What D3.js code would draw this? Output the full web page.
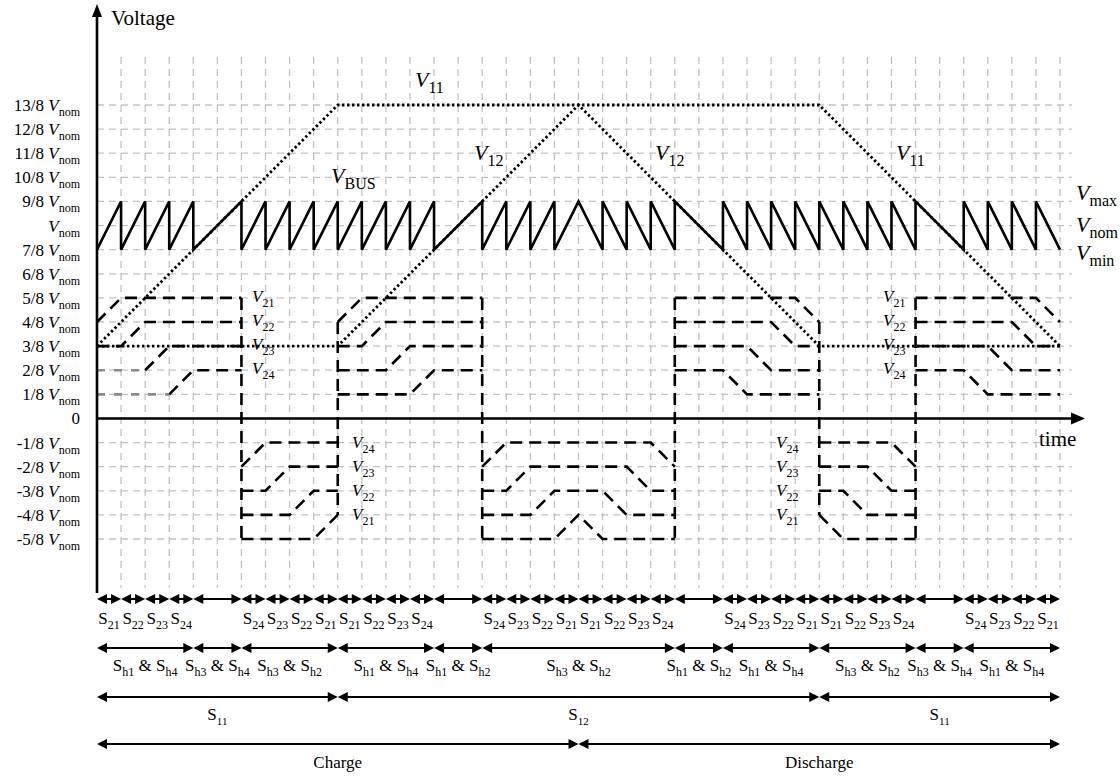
<!DOCTYPE html>
<html>
<head>
<meta charset="utf-8">
<script src="https://cdn.jsdelivr.net/npm/d3@7"></script>
<style>
    body { margin: 0; background: #fff; }
    svg text { font-family: "Liberation Serif", "Times New Roman", serif; fill: #000; white-space: pre; }
</style>
</head>
<body>
<div id="chart"></div>
<script>

/* * * * * * * * * * * * * *
*   voltage / time diagram  *
* * * * * * * * * * * * * */

// y levels in 1/8 Vnom, time in grid cells (0..40)
const levelTicks = [13, 12, 11, 10, 9, 8, 7, 6, 5, 4, 3, 2, 1, 0, -1, -2, -3, -4, -5];
const levelNames = ["13/8", "12/8", "11/8", "10/8", "9/8", "", "7/8", "6/8", "5/8", "4/8", "3/8", "2/8", "1/8", "0",
    "-1/8", "-2/8", "-3/8", "-4/8", "-5/8"];

// bus voltage (sawtooth)
const vBus = [[0,7],[1,9],[1,7],[2,9],[2,7],[3,9],[3,7],[4,9],[4,7],[6,9],[6,7],[7,9],[7,7],[8,9],[8,7],[9,9],[9,7],
    [10,9],[10,7],[11,9],[11,7],[12,9],[12,7],[13,9],[13,7],[14,9],[14,7],[16,9],[16,7],[17,9],[17,7],[18,9],[18,7],
    [19,9],[19,7],[20,9],[21,7],[21,9],[22,7],[22,9],[23,7],[23,9],[24,7],[24,9],[26,7],[26,9],[27,7],[27,9],[28,7],
    [28,9],[29,7],[29,9],[30,7],[30,9],[31,7],[31,9],[32,7],[32,9],[33,7],[33,9],[34,7],[34,9],[36,7],[36,9],[37,7],
    [37,9],[38,7],[38,9],[39,7],[39,9],[40,7]];

// first stage capacitors (dotted)
const v11 = [[0,3],[10,13],[30,13],[40,3]];
const v12 = [[0,3],[10,3],[20,13],[30,3],[40,3]];

// second stage capacitors (dashed), per block
const v2Block1 = [
    [[0,4],[1,5],[6,5]],
    [[0,3],[1,3],[2,4],[6,4]],
    [[2,2],[3,3],[6,3]],
    [[3,1],[4,2],[6,2]]
];
const v2Block1Faint = [
    [[0,2],[2,2]],
    [[0,1],[3,1]]
];
const v2Block2 = [
    [[6,-2],[7,-1],[10,-1]],
    [[6,-3],[7,-3],[8,-2],[10,-2]],
    [[6,-4],[8,-4],[9,-3],[10,-3]],
    [[6,-5],[9,-5],[10,-4]]
];
const v2Block3 = [
    [[10,4],[11,5],[16,5]],
    [[10,3],[11,3],[12,4],[16,4]],
    [[10,2],[12,2],[13,3],[16,3]],
    [[10,1],[13,1],[14,2],[16,2]]
];
const v2Block4 = [
    [[16,-2],[17,-1],[23,-1],[24,-2]],
    [[16,-3],[17,-3],[18,-2],[22,-2],[23,-3],[24,-3]],
    [[16,-4],[18,-4],[19,-3],[21,-3],[22,-4],[24,-4]],
    [[16,-5],[19,-5],[20,-4],[21,-5],[24,-5]]
];
const v2Block5 = [
    [[24,5],[29,5],[30,4]],
    [[24,4],[28,4],[29,3],[30,3]],
    [[24,3],[27,3],[28,2],[30,2]],
    [[24,2],[26,2],[27,1],[30,1]]
];
const v2Block6 = [
    [[30,-1],[33,-1],[34,-2]],
    [[30,-2],[32,-2],[33,-3],[34,-3]],
    [[30,-3],[31,-3],[32,-4],[34,-4]],
    [[30,-4],[31,-5],[34,-5]]
];
const v2Block7 = [
    [[34,5],[39,5],[40,4]],
    [[34,4],[38,4],[39,3],[40,3]],
    [[34,3],[37,3],[38,2],[40,2]],
    [[34,2],[36,2],[37,1],[40,1]]
];
// vertical switching edges: [time, top level, bottom level]
const v2Edges = [[6,5,-5],[10,4,-4],[16,5,-5],[24,5,-5],[30,4,-4],[34,5,-5]];

// switch intervals
const s2Bounds = [0,1,2,3,4,6,7,8,9,10,11,12,13,14,16,17,18,19,20,21,22,23,24,26,27,28,29,30,31,32,33,34,36,37,38,39,40];
const s2Names = ["21","22","23","24","","24","23","22","21","21","22","23","24","","24","23","22","21",
    "21","22","23","24","","24","23","22","21","21","22","23","24","","24","23","22","21"];
const shBounds = [0,4,6,10,14,16,24,26,30,34,36,40];
const shNames = [["h1","h4"],["h3","h4"],["h3","h2"],["h1","h4"],["h1","h2"],["h3","h2"],["h1","h2"],["h1","h4"],
    ["h3","h2"],["h3","h4"],["h1","h4"]];
const s1Bounds = [0,10,30,40];
const s1Names = ["11","12","11"];
const modeBounds = [0,20,40];
const modeNames = ["Charge","Discharge"];

// curve labels: [name, subscript, left x, baseline]
const curveLabels = [["V","11",415,87],["V","BUS",331,183],["V","12",474,160],["V","12",655,160],["V","11",896,160],
    ["V","max",1076,200],["V","nom",1076,232],["V","min",1076,260]];
const v2LabelsLeft = [["21",5],["22",4],["23",3],["24",2]];
const v2LabelsNeg = [["24",-1],["23",-2],["22",-3],["21",-4]];


const width = 1120, height = 776;
const svg = d3.select("#chart").append("svg")
    .attr("width", width)
    .attr("height", height);

const x = d3.scaleLinear().domain([0, 40]).range([97, 1060]);
const y = d3.scaleLinear().domain([-5, 13]).range([539, 105]);
const line = d3.line().x(d => x(d[0])).y(d => y(d[1]));

// text with subscripts; parts = [text, sub?, italic?]
// anchoring is done by measuring, tspans with dy confuse text-anchor
function richText(g, px, py, parts, size, subSize, anchor) {
    let t = g.append("text")
        .attr("x", px)
        .attr("y", py)
        .style("font-size", size + "px");
    let cur = 0;
    parts.forEach(p => {
        let off = p[1] ? Math.round(size * 0.28) : 0;
        t.append("tspan")
            .attr("dy", off - cur)
            .style("font-size", (p[1] ? subSize : size) + "px")
            .style("font-style", p[2] ? "italic" : "normal")
            .text(p[0]);
        cur = off;
    });
    let len = t.node().getComputedTextLength();
    if (anchor === "end") t.attr("x", px - len);
    if (anchor === "middle") t.attr("x", px - len / 2);
    return t;
}

// grid
const grid = svg.append("g");
grid.selectAll(".vgrid")
    .data(d3.range(1, 41))
    .enter().append("line")
    .attr("x1", d => x(d)).attr("x2", d => x(d))
    .attr("y1", 57).attr("y2", 588)
    .attr("stroke", "#c2c2c2").attr("stroke-width", 1.3)
    .attr("stroke-dasharray", "7,5");
grid.selectAll(".hgrid")
    .data(levelTicks)
    .enter().append("line")
    .attr("x1", x(0)).attr("x2", 1072)
    .attr("y1", d => y(d)).attr("y2", d => y(d))
    .attr("stroke", "#c2c2c2").attr("stroke-width", 1.3)
    .attr("stroke-dasharray", "7,5");

// dashed second stage voltages
const dashG = svg.append("g")
    .attr("fill", "none")
    .attr("stroke", "#000")
    .attr("stroke-width", 2.6)
    .attr("stroke-dasharray", "12,7");
[v2Block1, v2Block2, v2Block3, v2Block4, v2Block5, v2Block6, v2Block7].forEach(block => {
    block.forEach(pts => dashG.append("path").attr("d", line(pts)));
});
v2Block1Faint.forEach(pts => {
    dashG.append("path").attr("d", line(pts)).attr("stroke", "#8a8a8a").attr("stroke-dasharray", "8,9");
});
v2Edges.forEach(e => {
    dashG.append("path").attr("d", line([[e[0], e[1]], [e[0], e[2]]]));
});

// dotted first stage voltages
const dotG = svg.append("g")
    .attr("fill", "none")
    .attr("stroke", "#000")
    .attr("stroke-width", 2.8)
    .attr("stroke-dasharray", "2.4,2.6");
dotG.append("path").attr("d", line(v11));
dotG.append("path").attr("d", line(v12));

// bus voltage
svg.append("path")
    .attr("d", line(vBus))
    .attr("fill", "none")
    .attr("stroke", "#000")
    .attr("stroke-width", 2.6);

// axes
const axisG = svg.append("g");
axisG.append("line")
    .attr("x1", x(0)).attr("x2", x(0))
    .attr("y1", 593).attr("y2", 14)
    .attr("stroke", "#000").attr("stroke-width", 2.6);
axisG.append("path")
    .attr("d", `M${x(0)},4 L${x(0) - 5},17 L${x(0) + 5},17 Z`);
axisG.append("line")
    .attr("x1", x(0)).attr("x2", 1074)
    .attr("y1", y(0)).attr("y2", y(0))
    .attr("stroke", "#000").attr("stroke-width", 2.6);
axisG.append("path")
    .attr("d", `M1085,${y(0)} L1071,${y(0) - 6} L1071,${y(0) + 6} Z`);
axisG.append("text")
    .attr("x", 111).attr("y", 25)
    .style("font-size", "21px")
    .text("Voltage");
axisG.append("text")
    .attr("x", 1039).attr("y", 446)
    .style("font-size", "21px")
    .text("time");

// level tick labels
levelTicks.forEach((lv, i) => {
    let name = levelNames[i];
    let parts;
    if (lv === 0) parts = [["0", false, false]];
    else if (name === "") parts = [["V", false, true], ["nom", true, false]];
    else parts = [[name + " ", false, false], ["V", false, true], ["nom", true, false]];
    richText(svg, 80, y(lv) + 6, parts, 17, 12, "end");
});

// curve labels
curveLabels.forEach(c => {
    richText(svg, c[2], c[3], [[c[0], false, true], [c[1], true, false]], 22, 16, "start");
});
v2LabelsLeft.forEach(c => {
    richText(svg, 252, y(c[1]) + 4, [["V", false, true], [c[0], true, false]], 17, 12, "start");
    richText(svg, 883, y(c[1]) + 4, [["V", false, true], [c[0], true, false]], 17, 12, "start");
});
v2LabelsNeg.forEach(c => {
    richText(svg, 352, y(c[1]) + 5, [["V", false, true], [c[0], true, false]], 17, 12, "start");
    richText(svg, 776, y(c[1]) + 5, [["V", false, true], [c[0], true, false]], 17, 12, "start");
});

// double headed arrows between bounds
function arrowRow(bounds, py) {
    let g = svg.append("g");
    for (let i = 0; i < bounds.length - 1; i++) {
        let a = x(bounds[i]), b = x(bounds[i + 1]);
        g.append("line")
            .attr("x1", a + 4).attr("x2", b - 4)
            .attr("y1", py).attr("y2", py)
            .attr("stroke", "#000").attr("stroke-width", 2);
        g.append("path").attr("d", `M${a},${py} L${a + 10},${py - 5} L${a + 10},${py + 5} Z`);
        g.append("path").attr("d", `M${b},${py} L${b - 10},${py - 5} L${b - 10},${py + 5} Z`);
    }
    return g;
}

arrowRow(s2Bounds, 599);
s2Names.forEach((n, i) => {
    if (n === "") return;
    let cx = (x(s2Bounds[i]) + x(s2Bounds[i + 1])) / 2;
    richText(svg, cx, 624, [["S", false, false], [n, true, false]], 17, 12, "middle");
});

arrowRow(shBounds, 648);
shNames.forEach((n, i) => {
    let cx = (x(shBounds[i]) + x(shBounds[i + 1])) / 2;
    richText(svg, cx, 671, [["S", false, false], [n[0], true, false], [" & S", false, false], [n[1], true, false]],
        17, 12, "middle");
});

arrowRow(s1Bounds, 697);
s1Names.forEach((n, i) => {
    let cx = (x(s1Bounds[i]) + x(s1Bounds[i + 1])) / 2;
    richText(svg, cx, 720, [["S", false, false], [n, true, false]], 17, 11, "middle");
});

arrowRow(modeBounds, 744);
modeNames.forEach((n, i) => {
    let cx = (x(modeBounds[i]) + x(modeBounds[i + 1])) / 2;
    svg.append("text")
        .attr("x", cx).attr("y", 768)
        .attr("text-anchor", "middle")
        .style("font-size", "17px")
        .text(n);
});

</script>
</body>
</html>
